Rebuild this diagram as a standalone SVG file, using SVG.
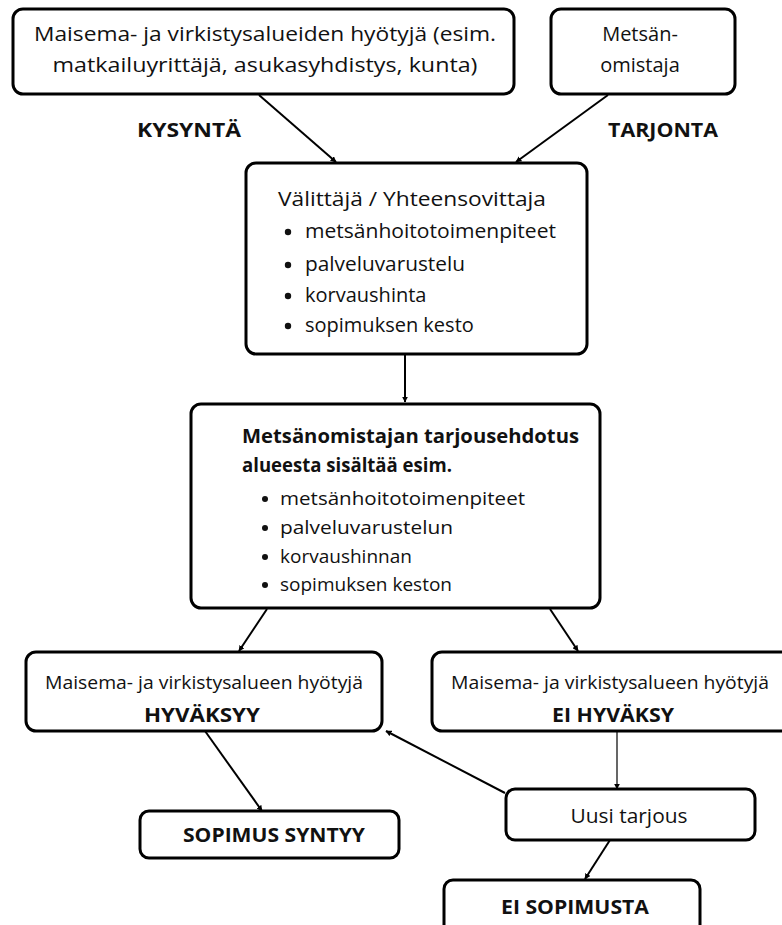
<svg xmlns="http://www.w3.org/2000/svg" width="782" height="925" viewBox="0 0 782 925">
<defs>
<style>
.box{fill:#fff;stroke:#000;stroke-width:3}
.t{font-family:"Open Sans","DejaVu Sans",sans-serif;font-size:20px;fill:#111}
.s{font-size:19px}
.b{font-family:"Open Sans","DejaVu Sans",sans-serif;font-size:20px;font-weight:bold;fill:#111}
.c{text-anchor:middle}
.con{stroke:#000;stroke-width:2;fill:none;marker-end:url(#ah)}
</style>
<marker id="ah" viewBox="0 0 10 10" refX="9" refY="5" markerWidth="6" markerHeight="6" orient="auto" markerUnits="userSpaceOnUse">
<path d="M0,0 L10,5 L0,10 z" fill="#000"/>
</marker>
</defs>
<rect width="782" height="925" fill="#fff"/>
<g id="connectors">
<line class="con" x1="259" y1="95" x2="336" y2="162"/>
<line class="con" x1="608" y1="95" x2="516" y2="162"/>
<line class="con" x1="405" y1="355" x2="405" y2="402"/>
<line class="con" x1="267" y1="609" x2="239" y2="651"/>
<line class="con" x1="550" y1="609" x2="578" y2="651"/>
<line class="con" style="stroke-width:1.2" x1="617" y1="731" x2="617" y2="789"/>
<line class="con" x1="505" y1="793" x2="386" y2="731"/>
<line class="con" x1="205" y1="731" x2="262" y2="811"/>
<line class="con" x1="610" y1="840" x2="585" y2="879"/>
</g>
<g id="n1">
<rect class="box" x="13" y="9" width="501" height="85" rx="10"/>
<text class="t c" x="265" y="41" textLength="462" lengthAdjust="spacingAndGlyphs">Maisema- ja virkistysalueiden hyötyjä (esim.</text>
<text class="t c" x="265" y="72" textLength="425" lengthAdjust="spacingAndGlyphs">matkailuyrittäjä, asukasyhdistys, kunta)</text>
</g>
<g id="n2">
<rect class="box" x="551" y="9" width="184" height="85" rx="10"/>
<text class="t c" x="640" y="41">Metsän-</text>
<text class="t c" x="640" y="72">omistaja</text>
</g>
<g id="lbl">
<text class="b c" x="189" y="137" textLength="104" lengthAdjust="spacingAndGlyphs">KYSYNTÄ</text>
<text class="b c" x="663" y="137" textLength="110" lengthAdjust="spacingAndGlyphs">TARJONTA</text>
</g>
<g id="n3">
<rect class="box" x="246" y="163" width="341" height="191" rx="10"/>
<text class="t" x="278" y="206" textLength="268" lengthAdjust="spacingAndGlyphs">Välittäjä / Yhteensovittaja</text>
<circle cx="288" cy="232" r="3.2" fill="#111"/>
<text class="t" x="305" y="238" textLength="251" lengthAdjust="spacingAndGlyphs">metsänhoitotoimenpiteet</text>
<circle cx="288" cy="265" r="3.2" fill="#111"/>
<text class="t" x="305" y="271" textLength="160" lengthAdjust="spacingAndGlyphs">palveluvarustelu</text>
<circle cx="288" cy="296" r="3.2" fill="#111"/>
<text class="t" x="305" y="302">korvaushinta</text>
<circle cx="288" cy="326" r="3.2" fill="#111"/>
<text class="t" x="305" y="332">sopimuksen kesto</text>
</g>
<g id="n4">
<rect class="box" x="191" y="404" width="409" height="204" rx="10"/>
<text class="b" x="242" y="443" textLength="337" lengthAdjust="spacingAndGlyphs">Metsänomistajan tarjousehdotus</text>
<text class="b" x="242" y="472" textLength="210" lengthAdjust="spacingAndGlyphs">alueesta sisältää esim.</text>
<circle cx="265" cy="499" r="3" fill="#111"/>
<text class="t s" x="280" y="505" textLength="245" lengthAdjust="spacingAndGlyphs">metsänhoitotoimenpiteet</text>
<circle cx="265" cy="528" r="3" fill="#111"/>
<text class="t s" x="280" y="534" textLength="173" lengthAdjust="spacingAndGlyphs">palveluvarustelun</text>
<circle cx="265" cy="557" r="3" fill="#111"/>
<text class="t s" x="280" y="563">korvaushinnan</text>
<circle cx="265" cy="585" r="3" fill="#111"/>
<text class="t s" x="280" y="591">sopimuksen keston</text>
</g>
<g id="n5">
<rect class="box" x="26" y="652" width="356" height="79" rx="10"/>
<text class="t c s" x="204" y="689" textLength="318" lengthAdjust="spacingAndGlyphs">Maisema- ja virkistysalueen hyötyjä</text>
<text class="b c" x="202" y="722" textLength="116" lengthAdjust="spacingAndGlyphs">HYVÄKSYY</text>
</g>
<g id="n6">
<rect class="box" x="432" y="652" width="360" height="79" rx="10"/>
<text class="t c s" x="610" y="689" textLength="318" lengthAdjust="spacingAndGlyphs">Maisema- ja virkistysalueen hyötyjä</text>
<text class="b c" x="613" y="722" textLength="122" lengthAdjust="spacingAndGlyphs">EI HYVÄKSY</text>
</g>
<g id="n7">
<rect class="box" x="506" y="789" width="249" height="51" rx="9"/>
<text class="t c" x="629" y="823" textLength="117" lengthAdjust="spacingAndGlyphs">Uusi tarjous</text>
</g>
<g id="n8">
<rect class="box" x="140" y="811" width="259" height="47" rx="9"/>
<text class="b c" x="274" y="842" textLength="182" lengthAdjust="spacingAndGlyphs">SOPIMUS SYNTYY</text>
</g>
<g id="n9">
<rect class="box" x="444" y="880" width="256" height="60" rx="9"/>
<text class="b c" x="575" y="914" textLength="148" lengthAdjust="spacingAndGlyphs">EI SOPIMUSTA</text>
</g>
</svg>
